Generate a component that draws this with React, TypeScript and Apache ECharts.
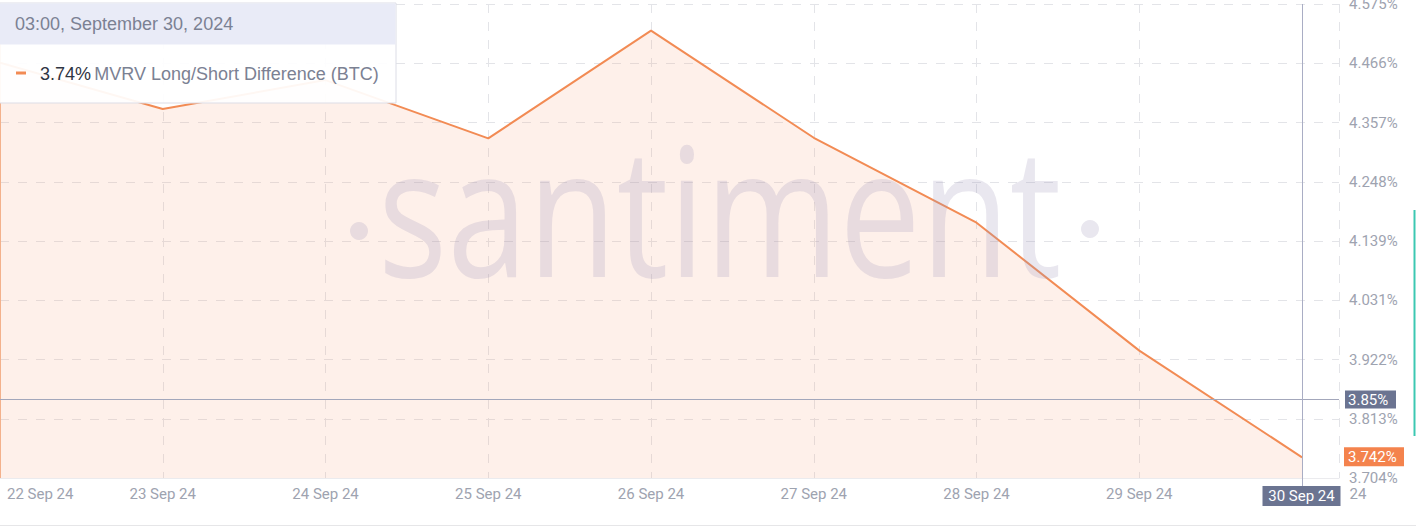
import React, { useEffect, useRef } from "react";
import * as echarts from "echarts";

// ---- data ----
const xLabels = ["22 Sep 24", "23 Sep 24", "24 Sep 24", "25 Sep 24", "26 Sep 24", "27 Sep 24", "28 Sep 24", "29 Sep 24", "30 Sep 24"];
const mvrvValues = [4.467, 4.382, 4.435, 4.328, 4.526, 4.329, 4.173, 3.938, 3.742];
const yMin = 3.70397;
const yStep = 0.10885;
const yStepCount = 8;
const xMax = 8.227;
const crosshairValue = 3.85;
const crosshairIndex = 8;
const lastValueLabel = "3.742%";
const crosshairYLabel = "3.85%";
const tooltipTitle = "03:00, September 30, 2024";
const tooltipValue = "3.74%";
const seriesName = "MVRV Long/Short Difference (BTC)";

const ORANGE = "#f28b54";
const GRAY_TEXT = "#9ea3b0";
const WATERMARK = "rgba(158,150,188,0.23)";

export default function App() {
  const ref = useRef<HTMLDivElement>(null);

  useEffect(() => {
    document.body.style.margin = "0";
    if (!ref.current) return;
    const chart = echarts.init(ref.current, null, { renderer: "svg" });
    const option: any = {
      animation: false,
      backgroundColor: "#ffffff",
      grid: { left: 0, right: 77, top: 4, bottom: 49, containLabel: false, outerBoundsMode: "none" },
      xAxis: {
        type: "value",
        min: 0,
        max: xMax,
        interval: 1,
        axisLine: { show: true, lineStyle: { color: "#ebebee", width: 1 } },
        axisTick: { show: false },
        splitLine: { show: true, lineStyle: { color: "#e3e4e8", type: [9, 9] } },
        axisLabel: {
          color: GRAY_TEXT,
          fontFamily: "Roboto",
          fontSize: 15,
          margin: 8,
          alignMinLabel: "left",
          formatter: (v: number) => {
            if (!Number.isInteger(v) || !xLabels[v]) return "";
            return v === 0 ? "{f|" + xLabels[v] + "}" : xLabels[v];
          },
          rich: {
            f: { color: GRAY_TEXT, fontFamily: "Roboto", fontSize: 15, padding: [0, 0, 0, 7] },
          },
        },
      },
      yAxis: {
        type: "value",
        position: "right",
        min: yMin,
        max: yMin + yStepCount * yStep,
        interval: yStep,
        axisLine: { show: true, lineStyle: { color: "#f2b590", width: 2 } },
        axisTick: { show: false },
        splitLine: { show: true, lineStyle: { color: "#e3e4e8", type: [9, 9] } },
        axisLabel: {
          color: GRAY_TEXT,
          fontFamily: "Roboto",
          fontSize: 15,
          margin: 10,
          formatter: (v: number) => v.toFixed(3) + "%",
        },
      },
      series: [
        {
          type: "line",
          name: seriesName,
          data: mvrvValues.map((v, i) => [i, v]),
          symbol: "none",
          lineStyle: { color: ORANGE, width: 2 },
          areaStyle: { color: "rgba(250,160,120,0.22)", origin: "start" },
          z: 2,
        },
      ],
    };
    chart.setOption(option);

    const lastPt = chart.convertToPixel({ gridIndex: 0 }, [crosshairIndex, mvrvValues[crosshairIndex]]) as number[];
    const crossPt = chart.convertToPixel({ gridIndex: 0 }, [crosshairIndex, crosshairValue]) as number[];
    const origin = chart.convertToPixel({ gridIndex: 0 }, [0, yMin]) as number[];
    const topRight = chart.convertToPixel({ gridIndex: 0 }, [xMax, yMin + yStepCount * yStep]) as number[];
    const cx = Math.round(crossPt[0]) + 0.5;
    const cy = Math.round(crossPt[1]) + 0.5;

    chart.setOption({
      graphic: [
        // watermark
        {
          type: "text",
          x: 378,
          y: 207,
          scaleX: 0.806,
          z: 3,
          silent: true,
          style: {
            text: "santiment",
            font: 'normal 180px "Open Sans"',
            fill: WATERMARK,
            align: "left",
            verticalAlign: "middle",
          },
        },
        { type: "circle", shape: { cx: 359, cy: 231, r: 9 }, z: 3, silent: true, style: { fill: WATERMARK } },
        { type: "circle", shape: { cx: 1090, cy: 229, r: 9 }, z: 3, silent: true, style: { fill: WATERMARK } },
        // crosshair lines
        {
          type: "line",
          z: 10,
          shape: { x1: origin[0], y1: cy, x2: topRight[0], y2: cy },
          style: { stroke: "#a3a7bb", lineWidth: 1 },
        },
        {
          type: "line",
          z: 10,
          shape: { x1: cx, y1: topRight[1], x2: cx, y2: origin[1] + 8 },
          style: { stroke: "#a9adc4", lineWidth: 1 },
        },
        // crosshair y label
        {
          type: "rect",
          z: 11,
          shape: { x: topRight[0] + 6, y: cy - 9, width: 51, height: 18 },
          style: { fill: "#6b7491" },
        },
        {
          type: "text",
          z: 12,
          x: topRight[0] + 9,
          y: cy,
          style: { text: crosshairYLabel, fill: "#ffffff", font: '15px "Roboto"', verticalAlign: "middle" },
        },
        // last value label
        {
          type: "rect",
          z: 11,
          shape: { x: topRight[0] + 5, y: lastPt[1] - 10, width: 60, height: 19 },
          style: { fill: "#f4834d" },
        },
        {
          type: "text",
          z: 12,
          x: topRight[0] + 9,
          y: lastPt[1],
          style: { text: lastValueLabel, fill: "#ffffff", font: '15px "Roboto"', verticalAlign: "middle" },
        },
        // crosshair x label
        {
          type: "rect",
          z: 11,
          shape: { x: cx - 40, y: origin[1] + 8, width: 78, height: 20 },
          style: { fill: "#6b7491" },
        },
        {
          type: "text",
          z: 12,
          x: cx - 1,
          y: origin[1] + 18,
          style: { text: xLabels[crosshairIndex], fill: "#ffffff", font: '15px "Roboto"', align: "center", verticalAlign: "middle" },
        },
        {
          type: "text",
          z: 10,
          x: cx + 47,
          y: origin[1] + 16,
          style: { text: "24", fill: GRAY_TEXT, font: '15px "Roboto"', align: "left", verticalAlign: "middle" },
        },
        // tooltip
        {
          type: "rect",
          z: 20,
          shape: { x: -2, y: 3, width: 398, height: 100 },
          style: { fill: "rgba(255,255,255,0.93)", stroke: "#dcdde6", lineWidth: 1 },
        },
        {
          type: "rect",
          z: 21,
          shape: { x: -1, y: 3.5, width: 396.5, height: 41 },
          style: { fill: "#e9ebf7" },
        },
        {
          type: "text",
          z: 22,
          x: 15,
          y: 24,
          style: { text: tooltipTitle, fill: "#7b8193", font: '18px "Liberation Sans"', verticalAlign: "middle" },
        },
        {
          type: "line",
          z: 22,
          shape: { x1: 16, y1: 73, x2: 26, y2: 73 },
          style: { stroke: ORANGE, lineWidth: 3 },
        },
        {
          type: "text",
          z: 22,
          x: 40,
          y: 74,
          style: {
            text: "{v|" + tooltipValue + "} {n|" + seriesName + "}",
            verticalAlign: "middle",
            rich: {
              v: { fill: "#2f3542", font: '18px "Liberation Sans"' },
              n: { fill: "#7b8193", font: '18px "Liberation Sans"' },
            },
          },
        },
        // page decorations
        { type: "line", z: 5, shape: { x1: 0, y1: 525.5, x2: 1416, y2: 525.5 }, style: { stroke: "#e6e6e8", lineWidth: 1 } },
        { type: "line", z: 5, shape: { x1: 1414.5, y1: 210, x2: 1414.5, y2: 436 }, style: { stroke: "#3cc8b2", lineWidth: 2 } },
      ],
    });

    return () => chart.dispose();
  }, []);

  return <div ref={ref} style={{ width: 1416, height: 527 }} />;
}
